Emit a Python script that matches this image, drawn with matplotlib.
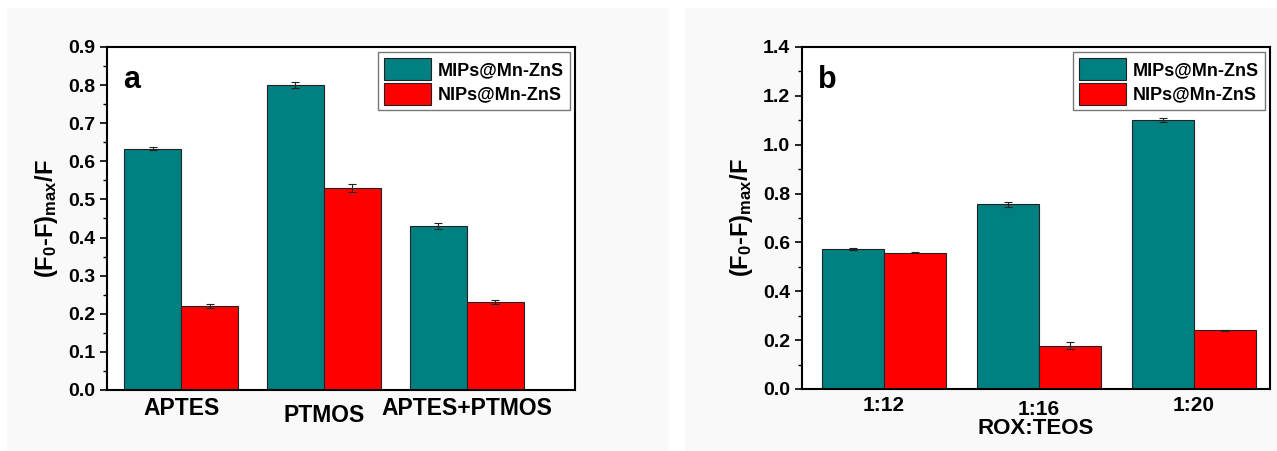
import matplotlib.pyplot as plt
from matplotlib.patches import Rectangle
from matplotlib.ticker import MultipleLocator
import numpy as np

# =============================================================================
# Data
# =============================================================================
cats_a = ["APTES", "PTMOS", "APTES+PTMOS"]
mips_a = [0.633, 0.800, 0.430]
mips_a_err = [0.004, 0.008, 0.007]
nips_a = [0.220, 0.530, 0.230]
nips_a_err = [0.005, 0.010, 0.005]

cats_b = ["1:12", "1:16", "1:20"]
mips_b = [0.572, 0.757, 1.100]
mips_b_err = [0.005, 0.010, 0.008]
nips_b = [0.558, 0.178, 0.240]
nips_b_err = [0.003, 0.014, 0.002]

series_names = ["MIPs@Mn-ZnS", "NIPs@Mn-ZnS"]
teal = "#008080"
red = "#ff0000"

plt.rcParams['font.family'] = ['Liberation Sans', 'DejaVu Sans']
plt.rcParams['font.weight'] = 'bold'
plt.rcParams['mathtext.fontset'] = 'custom'
plt.rcParams['mathtext.rm'] = 'Liberation Sans:bold'
plt.rcParams['mathtext.bf'] = 'Liberation Sans:bold'
plt.rcParams['mathtext.it'] = 'Liberation Sans:bold'

fig = plt.figure(figsize=(12.77, 4.51), dpi=100)
fig.patch.set_facecolor("white")

# fond gris clair des deux panneaux
fig.patches.append(Rectangle((7/1277, 0), 662/1277, 443/451, transform=fig.transFigure,
                             facecolor="#f9f9f9", edgecolor="none", zorder=-10))
fig.patches.append(Rectangle((685/1277, 0), 592/1277, 443/451, transform=fig.transFigure,
                             facecolor="#f9f9f9", edgecolor="none", zorder=-10))

ax_a = fig.add_axes([0.0838, 0.1353, 0.3665, 0.7605])
ax_b = fig.add_axes([0.628, 0.1375, 0.3665, 0.7583])

ylabel = r"$\mathbf{(F_0\text{-}F)_{max}/F}$"


def draw_panel(ax, cats, mips, mips_err, nips, nips_err, ylim, major, minor, xlim, letter,
               xsize, mid_pad):
    x = np.arange(len(cats))
    w = 0.4
    ax.bar(x - w/2, mips, w, yerr=mips_err, color=teal, edgecolor="#222222", linewidth=0.8,
           error_kw=dict(ecolor="#222222", elinewidth=0.8, capsize=3, capthick=0.8),
           label=series_names[0])
    ax.bar(x + w/2, nips, w, yerr=nips_err, color=red, edgecolor="#222222", linewidth=0.8,
           error_kw=dict(ecolor="#222222", elinewidth=0.8, capsize=3, capthick=0.8),
           label=series_names[1])
    ax.set_xlim(*xlim)
    ax.set_ylim(*ylim)
    ax.yaxis.set_major_locator(MultipleLocator(major))
    ax.yaxis.set_minor_locator(MultipleLocator(minor))
    ax.set_xticks(x)
    ax.set_xticklabels(cats, fontsize=xsize, fontweight="bold")
    ax.tick_params(axis="x", length=0, pad=5)
    ax.xaxis.get_major_ticks()[1].set_pad(mid_pad)
    ax.tick_params(axis="y", which="major", length=5, width=1.2, labelsize=14, direction="out")
    ax.tick_params(axis="y", which="minor", length=3, width=1.0, direction="out")
    for lab in ax.get_yticklabels():
        lab.set_fontweight("bold")
    for s in ax.spines.values():
        s.set_linewidth(1.5)
    ax.set_ylabel(ylabel, fontsize=17, labelpad=6)
    ax.text(0.035, 0.88, letter, transform=ax.transAxes, fontsize=22, fontweight="bold")
    leg = ax.legend(loc="upper right", frameon=True, fancybox=False,
                    handlelength=2.6, handleheight=1.5, borderpad=0.3, labelspacing=0.15,
                    handletextpad=0.4, borderaxespad=0.3, prop=dict(weight="bold", size=13))
    leg.get_frame().set_edgecolor("#555555")
    leg.get_frame().set_linewidth(1.0)


draw_panel(ax_a, cats_a, mips_a, mips_a_err, nips_a, nips_a_err,
           (0, 0.9), 0.1, 0.05, (-0.52, 2.76), "a", 16.5, 10)
draw_panel(ax_b, cats_b, mips_b, mips_b_err, nips_b, nips_b_err,
           (0, 1.4), 0.2, 0.1, (-0.53, 2.49), "b", 15, 8)
ax_b.set_xlabel("ROX:TEOS", fontsize=16, fontweight="bold", labelpad=-1)

fig.savefig("out.png", dpi=100, facecolor=fig.get_facecolor())
